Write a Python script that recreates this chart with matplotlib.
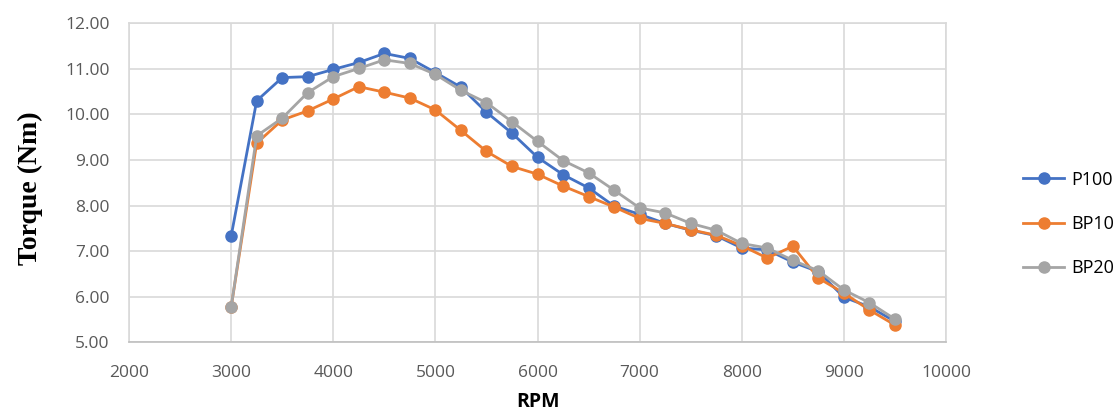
import matplotlib.pyplot as plt
import numpy as np

rpm = [3000, 3250, 3500, 3750, 4000, 4250, 4500, 4750, 5000, 5250, 5500, 5750, 6000,
       6250, 6500, 6750, 7000, 7250, 7500, 7750, 8000, 8250, 8500, 8750, 9000, 9250, 9500]

p100 = [7.33, 10.30, 10.81, 10.83, 10.99, 11.14, 11.34, 11.23, 10.92, 10.60, 10.05, 9.59, 9.06,
        8.68, 8.39, 7.99, 7.81, 7.61, 7.46, 7.34, 7.07, 7.03, 6.76, 6.55, 5.99, 5.78, 5.46]
bp10 = [5.77, 9.37, 9.88, 10.08, 10.34, 10.61, 10.49, 10.36, 10.10, 9.65, 9.19, 8.86, 8.69,
        8.43, 8.20, 7.97, 7.72, 7.61, 7.47, 7.35, 7.12, 6.85, 7.11, 6.41, 6.08, 5.71, 5.38]
bp20 = [5.77, 9.53, 9.92, 10.48, 10.83, 11.01, 11.20, 11.12, 10.88, 10.53, 10.26, 9.84, 9.41,
        8.99, 8.72, 8.34, 7.95, 7.84, 7.61, 7.46, 7.17, 7.07, 6.80, 6.57, 6.15, 5.87, 5.51]

series = [("P100", p100, "#4472c4"), ("BP10", bp10, "#ed7d31"), ("BP20", bp20, "#a5a5a5")]

fig = plt.figure(figsize=(11.16, 4.17), dpi=100)
ax = fig.add_axes([0.1156, 0.179, 0.7321, 0.765])

for name, vals, col in series:
    ax.plot(rpm, vals, color=col, lw=2.0, marker="o", ms=8, label=name, zorder=3)

ax.set_xlim(2000, 10000)
ax.set_ylim(5, 12)
ax.set_xticks(np.arange(2000, 10001, 1000))
ax.set_yticks(np.arange(5, 12.01, 1))
ax.set_yticklabels([f"{v:.2f}" for v in np.arange(5, 12.01, 1)])
ax.grid(True, color="#d9d9d9", lw=1.2)
ax.set_axisbelow(True)
for s in ["top", "right", "left"]:
    ax.spines[s].set_color("#d9d9d9")
    ax.spines[s].set_linewidth(1.2)
ax.spines["bottom"].set_color("#bfbfbf")
ax.spines["bottom"].set_linewidth(1.2)
ax.tick_params(length=0, labelsize=12.5, colors="#595959")
ax.tick_params(axis="x", pad=16)
ax.tick_params(axis="y", pad=14)
for lab in ax.get_xticklabels() + ax.get_yticklabels():
    lab.set_family("Open Sans")

ax.set_xlabel("RPM", fontsize=14, fontweight="bold", family="Open Sans", labelpad=8)
ax.set_ylabel("Torque (Nm)", fontsize=20, fontweight="bold", family="Liberation Serif")
ax.yaxis.set_label_coords(-0.105, 0.484)

fig.legend(loc="center left", bbox_to_anchor=(0.902, 0.463), frameon=False,
           prop={"family": "Open Sans", "size": 13}, labelspacing=1.45,
           handlelength=2.3, handletextpad=0.4)

fig.savefig("out.png", dpi=100)
